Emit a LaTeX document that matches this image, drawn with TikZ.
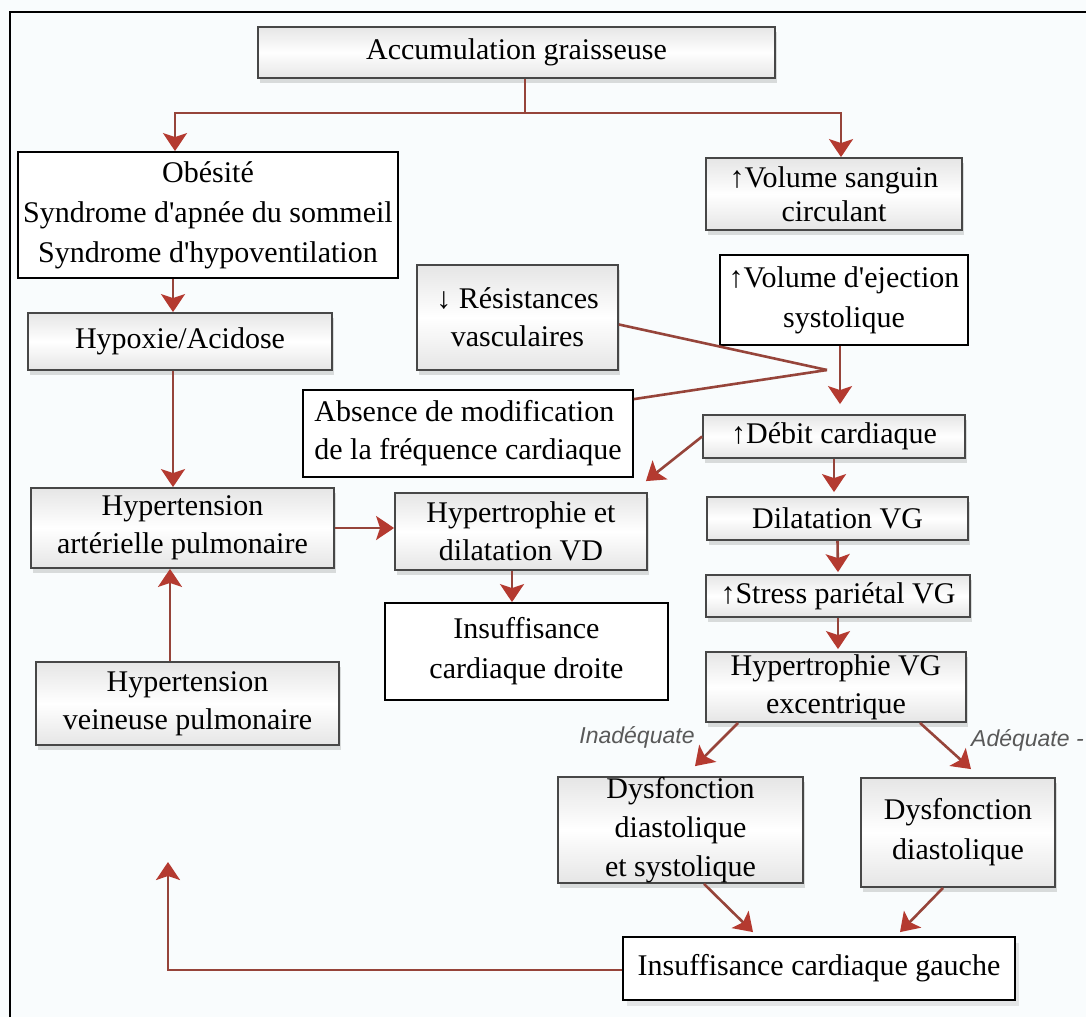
\documentclass[tikz,border=0pt]{standalone}
\usepackage{fontspec}
\setmainfont{Liberation Serif}[Ligatures=TeXOff]
\newfontfamily\lblfont{Liberation Sans}
\usetikzlibrary{arrows.meta,calc,shadows}
\definecolor{arrc}{RGB}{150,68,58}
\definecolor{tipc}{RGB}{180,58,48}
\definecolor{bgc}{RGB}{249,252,253}
\begin{document}
\begin{tikzpicture}[x=1pt,y=-1pt,
  every node/.style={font=\fontsize{30}{38}\selectfont, inner sep=0pt, align=center},
  shbox/.style={draw=black!72, line width=1.8pt, top color=black!10, bottom color=black!10, middle color=white,
    drop shadow={shadow xshift=2pt, shadow yshift=-5pt, opacity=0.22, fill=black!60}},
  plbox/.style={draw=black, line width=1.8pt, fill=white},
  conn/.style={draw=arrc, line width=2.6pt},
  arr/.style={conn, -{Stealth[length=18pt,width=24pt,inset=4pt,color=tipc]}},
  lbl/.style={font=\lblfont\itshape\fontsize{23}{26}\selectfont, text=black!65}
]
\fill[bgc] (0,0) rectangle (1086,1017);
\useasboundingbox (0,0) rectangle (1086,1017);
% frame
\draw[line width=2.5pt] (10,1017) -- (10,12) -- (1086,12);

% nodes
\node[shbox, minimum width=517pt, minimum height=51pt] (acc) at (516.5,52.5) {Accumulation graisseuse};
\node[plbox, minimum width=380pt, minimum height=126pt, font=\fontsize{30}{40}\selectfont] (obe) at (208,215) {Obésité\\Syndrome d'apnée du sommeil\\Syndrome d'hypoventilation};
\node[shbox, minimum width=256pt, minimum height=72pt, font=\fontsize{30}{34}\selectfont] (vsc) at (834,194) {↑Volume sanguin\\circulant};
\node[shbox, minimum width=304pt, minimum height=57pt] (hyp) at (180,341.5) {Hypoxie/Acidose};
\node[shbox, minimum width=201pt, minimum height=105pt] (res) at (517.5,317.5) {↓ Résistances\\vasculaires};
\node[plbox, minimum width=248pt, minimum height=90pt, font=\fontsize{30}{40}\selectfont] (ves) at (844,300) {↑Volume d'ejection\\systolique};
\node[plbox, minimum width=330pt, minimum height=87pt, align=left] (abs) at (468,433.5) {Absence de modification\\de la fréquence cardiaque};
\node[shbox, minimum width=262pt, minimum height=43pt] (deb) at (834,436.5) {↑Débit cardiaque};
\node[shbox, minimum width=303pt, minimum height=80pt] (hap) at (182.5,528) {Hypertension\\artérielle pulmonaire};
\node[shbox, minimum width=252pt, minimum height=77pt] (hvd) at (521,531.5) {Hypertrophie et\\dilatation VD};
\node[shbox, minimum width=261pt, minimum height=43pt] (dvg) at (837.5,518.5) {Dilatation VG};
\node[shbox, minimum width=264pt, minimum height=42pt] (spg) at (838,596) {↑Stress pariétal VG};
\node[plbox, minimum width=283pt, minimum height=97pt, font=\fontsize{30}{40}\selectfont] (icd) at (526.5,651.5) {Insuffisance\\cardiaque droite};
\node[shbox, minimum width=260pt, minimum height=70pt] (hvg) at (836,687) {Hypertrophie VG\\excentrique};
\node[shbox, minimum width=303pt, minimum height=83pt] (hvp) at (187.5,703.5) {Hypertension\\veineuse pulmonaire};
\node[shbox, minimum width=245pt, minimum height=106pt, font=\fontsize{30}{39}\selectfont] (ddsy) at (680.5,830) {Dysfonction\\diastolique\\et systolique};
\node[shbox, minimum width=194pt, minimum height=109pt, font=\fontsize{30}{40}\selectfont] (dd) at (958,832.5) {Dysfonction\\diastolique};
\node[plbox, minimum width=392pt, minimum height=63pt, drop shadow={shadow xshift=4pt, shadow yshift=-6pt, opacity=0.15, fill=black!60}] (icg) at (819,968.5) {Insuffisance cardiaque gauche};

% labels
\node[lbl] (inad) at (637,737) {Inadéquate};
\node[lbl, anchor=west] (adeq) at (971,740) {Adéquate -};

% connectors
\coordinate (split) at (525,113);
\draw[conn] (acc.south -| split) -- (split);
\draw[arr] (split) -| ($(obe.north)+(-33,0)$);
\draw[arr] (split) -| ($(vsc.north)+(7,0)$);
\draw[arr] ($(obe.south)+(-35,0)$) -- ($(hyp.north)+(-7,0)$);
\draw[arr] ($(hyp.south)+(-7,0)$) -- ($(hap.north)+(-9.5,0)$);
\draw[arr] ($(hvp.north)+(-17.5,0)$) -- ($(hap.south)+(-12.5,0)$);
\draw[arr] (hap.east) -- (hvd.west |- hap.east);
\draw[arr] ($(hvd.south)+(-9,0)$) -- ($(icd.north)+(-14.5,0)$);

\coordinate (conv) at (827,370);
\draw[conn] ($(res.east)+(0,7)$) -- (conv);
\draw[conn] ($(abs.north east)+(0,10)$) -- (conv);
\draw[arr] ($(ves.south)+(-4,0)$) -- ($(deb.north)+(6,-10)$);
\draw[arr] (deb.west) -- ($(hvd.north east)+(-2,-11)$);
\draw[arr] (deb.south) -- ($(dvg.north)+(-3.5,-4)$);
\draw[arr] (dvg.south) -- ($(spg.north)+(0,-2)$);
\draw[arr] (spg.south) -- ($(hvg.north)+(2,-2)$);
\draw[arr] ($(hvg.south west)+(33,0)$) -- ($(ddsy.north)+(14.5,-10)$);
\draw[arr] ($(hvg.south)+(84,0)$) -- ($(dd.north)+(13,-8)$);
\draw[arr] ($(ddsy.south)+(23.5,0)$) -- ($(icg.north)+(-66,-4)$);
\draw[arr] ($(dd.south)+(-15,0)$) -- ($(icg.north)+(81,-4)$);
\coordinate (fbtip) at (168,862);
\draw[arr] ($(icg.west)+(0,1.5)$) -| (fbtip);
\end{tikzpicture}
\end{document}
